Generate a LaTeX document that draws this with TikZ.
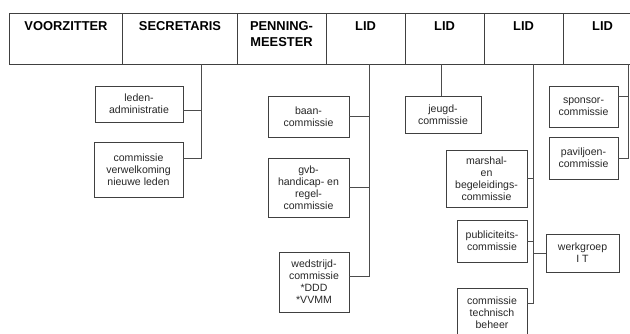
\documentclass[tikz,border=0pt]{standalone}
\usepackage{fontspec}
\setmainfont{Liberation Sans}
\usepackage{xcolor}
\usepackage{tikz}
\usetikzlibrary{positioning}

\begin{document}
\begin{tikzpicture}[
    x=0.3mm, y=-0.3mm,
    hdr/.style={draw=black!75, line width=0.8pt, anchor=north west, minimum height=15.3mm, inner sep=0pt},
    hdrtxt/.style={anchor=north, align=center, inner sep=0pt, font=\fontsize{11}{13.6}\selectfont\bfseries},
    sub/.style={draw=black!75, line width=0.8pt, align=center, inner sep=0pt, text=black!85, font=\fontsize{9}{10.3}\selectfont},
    link/.style={draw=black!70, line width=0.8pt}
]
\useasboundingbox (0,0) rectangle (630,333);

% Top row :
\node[hdr, minimum width=33.9mm] (vz)  at (9,13)   {};
\node[hdr, minimum width=34.5mm] (sec) at (122,13) {};
\node[hdr, minimum width=26.7mm] (pm)  at (237,13) {};
\node[hdr, minimum width=23.7mm] (lidA) at (326,13) {};
\node[hdr, minimum width=23.7mm] (lidB) at (405,13) {};
\node[hdr, minimum width=23.7mm] (lidC) at (484,13) {};
\node[hdr, minimum width=23.7mm] (lidD) at (563,13) {};

\node[hdrtxt] (vz-t)   at (66,21)    {VOORZITTER};
\node[hdrtxt] (sec-t)  at (180,21)   {SECRETARIS};
\node[hdrtxt] (pm-t)   at (281.5,21) {PENNING-\\MEESTER};
\node[hdrtxt] (lidA-t) at (365.5,21) {LID};
\node[hdrtxt] (lidB-t) at (444.5,21) {LID};
\node[hdrtxt] (lidC-t) at (523.5,21) {LID};
\node[hdrtxt] (lidD-t) at (602.5,21) {LID};

% Commissies :
\node[sub, minimum width=26.4mm, minimum height=10.8mm] (leden)   at (139,104)   {leden-\\administratie};
\node[sub, minimum width=26.7mm, minimum height=16.5mm] (welkom)  at (138.5,169.5) {commissie\\verwelkoming\\nieuwe leden};

\node[sub, minimum width=24.3mm, minimum height=12.3mm] (baan)    at (308.5,116.5) {baan-\\commissie};
\node[sub, minimum width=24.3mm, minimum height=17.7mm] (gvb)     at (308.5,187.5) {gvb-\\handicap- en\\regel-\\commissie};
\node[sub, minimum width=21mm,   minimum height=18mm]   (wed)     at (314,282)   {wedstrijd-\\commissie\\*DDD\\*VVMM};

\node[sub, minimum width=22.8mm, minimum height=11.1mm] (jeugd)   at (443,114.5) {jeugd-\\commissie};

\node[sub, minimum width=24.3mm, minimum height=17.1mm] (marshal) at (486.5,178.5) {marshal-\\en\\begeleidings-\\commissie};
\node[sub, minimum width=21mm,   minimum height=12.6mm] (publ)    at (492,241)   {publiciteits-\\commissie};
\node[sub, minimum width=21mm,   minimum height=15mm]   (techn)   at (492,313)   {commissie\\technisch\\beheer};
\node[sub, minimum width=21.9mm, minimum height=11.4mm] (werk)    at (582.5,253) {werkgroep\\I T};

\node[sub, minimum width=20.7mm, minimum height=12.3mm] (sponsor) at (583.5,106.5) {sponsor-\\commissie};
\node[sub, minimum width=20.7mm, minimum height=12.6mm] (pav)     at (583.5,158) {paviljoen-\\commissie};

% Lines :
\coordinate (secbus)  at (201,64);
\coordinate (lidAbus) at (369,64);
\coordinate (lidBbus) at (441,64);
\coordinate (lidCbus) at (533,64);
\coordinate (lidDbus) at (628,64);

\draw[link] (secbus) |- (leden.east |- 0,110);
\draw[link] (secbus) |- (welkom.east |- 0,158);

\draw[link] (lidAbus) |- (baan.east);
\draw[link] (lidAbus) |- (gvb.east);
\draw[link] (lidAbus) |- (wed.east |- 0,276);

\draw[link] (lidBbus) -- (lidBbus |- jeugd.north);

\draw[link] (lidCbus) |- (marshal.east);
\draw[link] (lidCbus) |- (publ.east);
\draw[link] (lidCbus) |- (techn.east |- 0,303);
\draw[link] (lidCbus |- werk.west) -- (werk.west);

\draw[link] (lidDbus) |- (sponsor.east |- 0,96);
\draw[link] (lidDbus) |- (pav.east);

\end{tikzpicture}
\end{document}
